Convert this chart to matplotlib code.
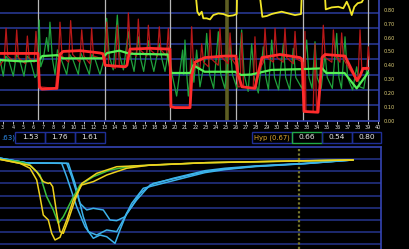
import matplotlib
matplotlib.use("Agg")
import matplotlib.pyplot as plt
from matplotlib.patches import Rectangle

# ---------------- data: top panel ----------------
x_ticks = list(range(3, 41))
day_lines = [6.51, 13.09, 19.49, 26.0, 32.58, 39.01]
marker_line = 25.08

red_thick_x = [2.73, 6.48, 6.63, 6.87, 8.16, 8.35, 8.65, 8.95, 10.62, 12.59, 12.89, 13.09, 15.06, 15.25,
               15.55, 17.52, 19.49, 19.59, 19.99, 21.47, 21.66, 21.96, 22.94, 24.92, 26.0, 26.2, 26.59,
               27.87, 28.17, 28.56, 30.34, 32.31, 32.51, 32.71, 34.09, 34.48, 34.78, 36.75, 37.93, 38.23,
               38.52, 39.01]
red_thick_y = [0.437, 0.437, 0.217, 0.205, 0.21, 0.21, 0.43, 0.45, 0.455, 0.44, 0.435, 0.36, 0.35, 0.36,
               0.465, 0.47, 0.465, 0.09, 0.085, 0.085, 0.30, 0.38, 0.41, 0.42, 0.42, 0.30, 0.22,
               0.21, 0.30, 0.41, 0.43, 0.41, 0.40, 0.06, 0.055, 0.41, 0.43, 0.42, 0.26, 0.29,
               0.34, 0.34]

red_thin_x = [2.73, 3.15, 3.33, 3.5, 4.2, 4.38, 4.55, 5.25, 5.43, 5.6, 6.1, 6.28, 6.45, 6.6, 8.2, 8.5,
              8.65, 8.85, 9.5, 9.7, 9.9, 10.6, 10.79, 11.0, 11.6, 11.77, 11.95, 12.9, 13.1, 13.25, 13.45,
              14.1, 14.3, 14.5, 15.2, 15.39, 15.6, 16.2, 16.37, 16.55, 17.2, 17.36, 17.55, 18.25, 18.44,
              18.6, 19.15, 19.33, 19.5, 19.6, 21.45, 21.5, 21.63, 21.8, 22.45, 22.62, 22.8, 23.3, 23.44,
              23.6, 24.25, 24.42, 24.6, 25.25, 25.41, 25.6, 26.0, 26.2, 26.4, 26.56, 26.75, 27.7, 27.87,
              28.05, 28.7, 28.86, 29.05, 29.7, 29.85, 30.05, 30.65, 30.83, 31.0, 31.65, 31.82, 32.0,
              32.6, 32.75, 32.8, 32.9, 33.6, 33.79, 33.95, 34.4, 34.61, 34.8, 35.45, 35.6, 35.8, 36.25,
              36.42, 36.6, 37.9, 38.05, 38.23, 38.4, 38.9, 39.05, 39.15]
red_thin_y = [0.36, 0.40, 0.60, 0.42, 0.38, 0.59, 0.41, 0.37, 0.55, 0.41, 0.38, 0.58, 0.42, 0.22, 0.21, 0.40,
              0.64, 0.42, 0.38, 0.65, 0.43, 0.38, 0.59, 0.42, 0.37, 0.60, 0.42, 0.40, 0.36, 0.64, 0.36,
              0.34, 0.62, 0.36, 0.35, 0.70, 0.45, 0.42, 0.66, 0.46, 0.42, 0.62, 0.46, 0.42, 0.61,
              0.46, 0.42, 0.60, 0.40, 0.09, 0.085, 0.35, 0.61, 0.38, 0.34, 0.50, 0.38, 0.35, 0.59,
              0.40, 0.36, 0.60, 0.41, 0.37, 0.57, 0.40, 0.36, 0.22, 0.22, 0.57, 0.22, 0.21, 0.545,
              0.30, 0.38, 0.60, 0.41, 0.38, 0.60, 0.41, 0.38, 0.60, 0.41, 0.37, 0.58, 0.40,
              0.38, 0.06, 0.58, 0.06, 0.055, 0.50, 0.06, 0.30, 0.62, 0.41, 0.38, 0.59, 0.42, 0.38,
              0.57, 0.40, 0.26, 0.30, 0.59, 0.34, 0.33, 0.48, 0.40]

green_thick_x = [2.73, 5.0, 6.5, 6.9, 8.4, 8.9, 12.8, 13.3, 14.5, 15.5, 19.3, 19.6, 21.5, 21.8, 22.9,
                 25.9, 26.5, 27.5, 29.5, 32.5, 34.5, 34.9, 36.7, 37.9, 39.0]
green_thick_y = [0.394, 0.385, 0.39, 0.42, 0.426, 0.405, 0.405, 0.44, 0.455, 0.435, 0.43, 0.31, 0.31, 0.36,
                 0.318, 0.318, 0.297, 0.30, 0.33, 0.335, 0.34, 0.31, 0.31, 0.21, 0.31]

green_thin_x = [2.73, 3.06, 3.3, 3.56, 4.05, 4.35, 4.64, 5.10, 5.4, 5.69, 6.18, 6.4, 6.6, 6.75, 7.0, 7.33,
                7.5, 7.66, 7.9, 8.16, 8.4, 8.65, 9.31, 9.6, 9.9, 10.46, 10.7, 10.95, 11.54, 11.8, 12.1,
                12.59, 13.0, 13.25, 13.5, 13.9, 14.3, 14.55, 14.9, 15.39, 15.65, 15.95, 16.37, 16.6,
                16.9, 17.36, 17.6, 17.9, 18.44, 18.7, 19.0, 19.4, 19.7, 20.15, 20.74, 20.85, 20.97,
                21.15, 21.3, 21.63, 21.85, 22.12, 22.45, 22.94, 23.11, 23.4, 23.8, 24.26, 24.5, 24.9,
                25.41, 25.65, 26.1, 26.56, 26.8, 27.2, 27.55, 27.8, 28.2, 28.69, 28.95, 29.2, 29.52,
                29.8, 30.2, 30.67, 30.9, 31.3, 31.65, 31.9, 32.5, 32.97, 33.2, 33.5, 33.79, 34.0, 34.4,
                34.78, 35.0, 35.5, 35.93, 36.15, 36.4, 36.75, 37.0, 37.5, 37.9, 38.2, 38.6, 38.89, 39.1]
green_thin_y = [0.40, 0.29, 0.42, 0.40, 0.29, 0.43, 0.40, 0.29, 0.42, 0.40, 0.28, 0.30, 0.654, 0.35, 0.40, 0.54,
                0.45, 0.64, 0.40, 0.30, 0.46, 0.42, 0.30, 0.43, 0.40, 0.30, 0.44, 0.40, 0.30, 0.43, 0.40,
                0.30, 0.40, 0.665, 0.42, 0.33, 0.686, 0.42, 0.33, 0.578, 0.40, 0.32, 0.545, 0.40,
                0.32, 0.52, 0.40, 0.32, 0.50, 0.40, 0.32, 0.48, 0.30, 0.16, 0.459, 0.30, 0.524,
                0.30, 0.16, 0.40, 0.25, 0.459, 0.22, 0.40, 0.567, 0.30, 0.21, 0.578, 0.30, 0.21,
                0.50, 0.30, 0.21, 0.589, 0.30, 0.19, 0.50, 0.28, 0.18, 0.48, 0.28, 0.20, 0.524,
                0.28, 0.20, 0.50, 0.28, 0.20, 0.47, 0.28, 0.21, 0.524, 0.28, 0.21, 0.513, 0.28, 0.21,
                0.437, 0.28, 0.21, 0.567, 0.28, 0.21, 0.545, 0.28, 0.20, 0.35, 0.22, 0.21, 0.33, 0.30]

yellow_x = [22.0, 22.06, 22.19, 22.38, 22.62, 22.78, 23.11, 23.44, 23.76, 24.26, 24.75, 25.24, 25.73,
            26.07, 26.15, 28.3, 28.37, 28.6, 29.03, 29.52, 30.01, 30.51, 31.16, 31.82, 32.41, 32.56,
            34.7, 34.78, 34.85, 35.44, 36.09, 36.58, 36.92, 37.14, 37.41, 37.67, 38.0, 38.4, 38.65, 38.9]
yellow_y = [0.95, 0.80, 0.708, 0.686, 0.708, 0.665, 0.665, 0.658, 0.686, 0.697, 0.693, 0.68, 0.684,
            0.693, 0.95, 0.95, 0.80, 0.675, 0.68, 0.693, 0.701, 0.708, 0.697, 0.686, 0.693, 0.95,
            0.95, 0.80, 0.723, 0.736, 0.74, 0.73, 0.773, 0.74, 0.686, 0.74, 0.763, 0.77, 0.80, 0.95]

right_labels = ["0.00", "0.10", "0.20", "0.30", "0.40", "0.50", "0.60", "0.70", "0.80"]

# ---------------- data: middle boxes ----------------
left_partial = ".63)"
left_values = ["1.53", "1.76", "1.61"]
right_title = "Hyp (0.67)"
right_values = ["0.66", "0.54", "0.80"]

# ---------------- data: bottom panel ----------------
yelA_x = [0, 20, 30, 36.7, 40, 43.3, 48.3, 51.7, 55, 60, 66.7, 73.3, 81.7, 93.3, 106.7, 126.7, 150, 205, 280, 353]
yelA_y = [-1.0, -1.33, -1.74, -2.71, -4.10, -5.62, -6.03, -7.14, -7.69, -7.47, -6.03, -4.37, -3.13, -2.85,
          -2.30, -1.74, -1.47, -1.28, -1.15, -1.05]
yelB_x = [0, 30, 36.7, 43.3, 48.3, 50, 52.7, 56.7, 60, 63.3, 68.3, 75, 81.7, 96.7, 116.7, 205, 353]
yelB_y = [-1.0, -1.5, -2.02, -2.85, -3.0, -2.94, -3.27, -5.48, -7.0, -7.14, -6.03, -4.37, -3.0, -2.16,
          -1.61, -1.28, -1.05]
grn_x = [0, 20, 30, 40, 46.7, 53.3, 58.3, 63.3, 71.7, 80, 93.3, 110, 133.3, 205, 353]
grn_y = [-1.0, -1.2, -1.47, -2.30, -4.10, -5.2, -6.31, -5.76, -4.37, -3.13, -2.44, -1.88, -1.55, -1.28, -1.05]
blu1_x = [0, 27, 61.7, 66.7, 76.7, 85, 93.3, 100, 106.7, 115, 120, 126.7, 136.7, 150, 173.3, 205, 225, 255, 305, 353]
blu1_y = [-0.9, -1.3, -1.33, -2.44, -4.93, -6.59, -7.55, -7.28, -7.42, -7.97, -6.86, -5.48, -4.37, -3.13,
          -2.57, -1.94, -1.74, -1.55, -1.33, -1.05]
blu2_x = [0, 27, 66.7, 71.7, 80, 86.7, 93.3, 103.3, 110, 116.7, 125, 131.7, 140, 153.3, 205, 225, 255, 305, 353]
blu2_y = [-0.9, -1.3, -1.33, -2.44, -4.65, -5.2, -5.06, -5.2, -6.03, -6.09, -5.76, -4.93, -3.82, -2.99,
          -2.02, -1.8, -1.58, -1.35, -1.05]
blu3_x = [0, 27, 68.3, 75, 83.3, 88.3, 96.7, 106.7, 116.7, 123.3, 131.7, 143.3, 205, 225, 255, 305, 353]
blu3_y = [-0.9, -1.3, -1.33, -2.99, -5.76, -7.0, -7.28, -6.86, -7.0, -6.03, -4.65, -3.40, -2.1, -1.85,
          -1.6, -1.36, -1.05]
bottom_marker = 298.7

# ---------------- drawing ----------------
W, H = 410, 249
fig = plt.figure(figsize=(W / 100, H / 100), dpi=100, facecolor="black")

grid_c = "#2a3c9c"
spine_c = "#3444b4"

ax1 = fig.add_axes([0, 1 - 120.7 / H, 379 / W, 120.7 / H], facecolor="black")
ax1.set_xlim(2.734, 40.1)
ax1.set_ylim(0, 0.784)
for g in [0.1, 0.2, 0.3, 0.4, 0.5, 0.6, 0.7]:
    ax1.axhline(g, color=grid_c, lw=1.1, zorder=1)
for d in day_lines:
    ax1.axvline(d, color="#b8b8b8", lw=0.9, zorder=2)
ax1.axvline(marker_line, color="#5e5e22", lw=2.6, zorder=2)

ax1.plot(green_thin_x, green_thin_y, color="#1fa23c", lw=0.9, zorder=3)
ax1.plot(red_thin_x, red_thin_y, color="#b81818", lw=0.9, zorder=4)
ax1.plot(green_thick_x, green_thick_y, color="#55f055", lw=1.6, zorder=5)
ax1.plot(red_thick_x, red_thick_y, color="#ff2c2c", lw=2.0, zorder=6)
ax1.plot(yellow_x, yellow_y, color="#f2e628", lw=1.3, zorder=6)

for s in ["top", "left"]:
    ax1.spines[s].set_visible(False)
ax1.spines["bottom"].set_color(spine_c)
ax1.spines["right"].set_color(spine_c)
ax1.spines["bottom"].set_linewidth(1.2)
ax1.spines["right"].set_linewidth(1.2)
ax1.set_xticks(x_ticks)
ax1.set_xticklabels([str(t) for t in x_ticks], fontsize=3.6, color="#e0e0e0")
ax1.tick_params(axis="x", colors="#e0e0e0", length=2, width=0.6, pad=0.8, direction="out")
ax1.set_yticks([])

ax1r = ax1.twinx()
ax1r.set_ylim(0, 0.872)
ax1r.set_yticks([i * 0.1 for i in range(9)])
ax1r.set_yticklabels(right_labels, fontsize=3.6, color="#e2d27a")
ax1r.tick_params(axis="y", length=0, pad=3)
for s in ["top", "left", "bottom", "right"]:
    ax1r.spines[s].set_visible(False)

# middle boxes
def fig_box(x0, x1, y0, y1, edge, lw=1.0):
    fig.patches.append(Rectangle((x0 / W, 1 - y1 / H), (x1 - x0) / W, (y1 - y0) / H,
                                 transform=fig.transFigure, facecolor="none", edgecolor=edge, lw=lw))

by0, by1 = 131.5, 143.3
ymid = 1 - (by0 + by1) / 2 / H
box_c = "#1f2f96"
fig.text(0.8 / W, ymid, left_partial, color="#2f8ff0", fontsize=5.0, ha="left", va="center")
lb = [15, 45, 75, 105]
for i, v in enumerate(left_values):
    fig_box(lb[i], lb[i + 1], by0, by1, box_c)
    fig.text((lb[i] + lb[i + 1]) / 2 / W, ymid, v, color="#e8e8e8", fontsize=5.4, ha="center", va="center")
rb = [251.7, 292.3, 322.3, 351.7, 381]
fig_box(rb[0], rb[1], by0, by1, box_c)
fig.text((rb[0] + rb[1]) / 2 / W, ymid, right_title, color="#e2a932", fontsize=4.9, ha="center", va="center")
for i, v in enumerate(right_values):
    edge = "#22a84a" if i == 0 else box_c
    fig_box(rb[i + 1], rb[i + 2], by0, by1, edge)
    fig.text((rb[i + 1] + rb[i + 2]) / 2 / W, ymid, v, color="#e8e8e8", fontsize=5.4, ha="center", va="center")

# bottom panel
ax2 = fig.add_axes([0, 0, 381 / W, (H - 147.3) / H], facecolor="black")
ax2.set_xlim(0, 381)
ax2.set_ylim(-(H - 147.3) / 12.05, 0)
for g in range(1, 9):
    ax2.axhline(-g, color="#25358c", lw=1.1, zorder=1)
ax2.axvline(bottom_marker, color="#7a7a2c", lw=1.6, ls=(0, (1, 1)), zorder=2)
ax2.plot(blu1_x, blu1_y, color="#3cb2ea", lw=1.1, zorder=3)
ax2.plot(blu2_x, blu2_y, color="#3cb2ea", lw=1.1, zorder=3)
ax2.plot(blu3_x, blu3_y, color="#3cb2ea", lw=1.1, zorder=3)
ax2.plot(grn_x, grn_y, color="#3cc03c", lw=1.1, zorder=4)
ax2.plot(yelA_x, yelA_y, color="#eed21e", lw=1.1, zorder=5)
ax2.plot(yelB_x, yelB_y, color="#eed21e", lw=1.1, zorder=5)
ax2.set_xticks([])
ax2.set_yticks([])
for s in ["left", "bottom"]:
    ax2.spines[s].set_visible(False)
for s in ["top", "right"]:
    ax2.spines[s].set_color(spine_c)
    ax2.spines[s].set_linewidth(1.2)

fig.savefig("out.png", dpi=100, facecolor="black")
